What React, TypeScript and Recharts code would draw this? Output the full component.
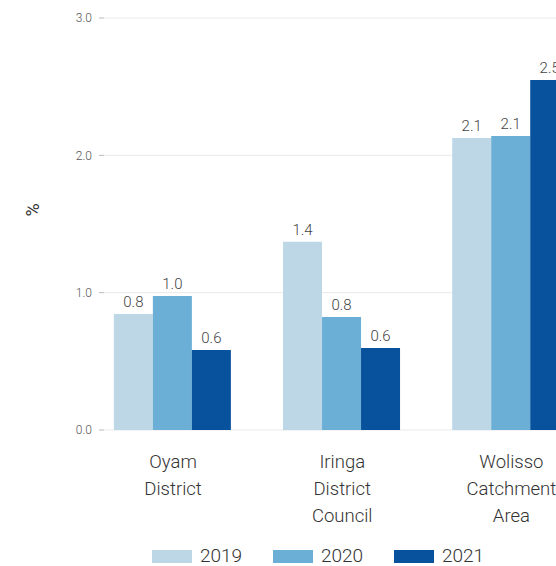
import { Bar, BarChart, CartesianGrid, LabelList, XAxis, YAxis } from "recharts";

const categories = [
  ["Oyam", "District"],
  ["Iringa", "District", "Council"],
  ["Wolisso", "Catchment", "Area"],
];
const years = ["2019", "2020", "2021"];
const colors = ["#bdd7e7", "#6baed6", "#08519c"];
const values2019 = [0.845, 1.37, 2.127];
const values2020 = [0.976, 0.823, 2.141];
const values2021 = [0.583, 0.597, 2.549];
const yTicks = [0, 1, 2, 3];

const data = categories.map((lines, i) => ({
  name: lines.join(" "),
  "2019": values2019[i],
  "2020": values2020[i],
  "2021": values2021[i],
}));

const font = "Roboto, 'Noto Sans', sans-serif";

function CategoryTick({ x, y, payload }: any) {
  const lines = payload.value.split(" ");
  return (
    <text x={x} y={y + 30} textAnchor="middle" fill="#333" fontSize={18.5} fontFamily={font} fontWeight={300}>
      {lines.map((l: string, i: number) => (
        <tspan key={i} x={x} dy={i === 0 ? 0 : 27}>
          {l}
        </tspan>
      ))}
    </text>
  );
}

function PercentLabel({ viewBox }: any) {
  const x = 32;
  const y = viewBox.y + viewBox.height / 2 - 14;
  return (
    <text x={x} y={y} transform={`rotate(-90, ${x}, ${y})`} textAnchor="middle" dominantBaseline="central" fill="#333" fontSize={18} fontFamily={font}>
      %
    </text>
  );
}

export default function App() {
  return (
    <div style={{ position: "relative", width: 556, height: 566, overflow: "hidden" }}>
      <style>{"body{margin:0}"}</style>
      <BarChart
        width={596}
        height={566}
        data={data}
        margin={{ top: 18, right: 0, bottom: 0, left: 0 }}
        barCategoryGap="15%"
        barGap={0}
      >
        <CartesianGrid vertical={false} stroke="#e9e9e9" />
        <XAxis
          dataKey="name"
          axisLine={false}
          tickLine={false}
          height={136}
          interval={0}
          padding={{ left: -15.5, right: 0 }}
          tick={<CategoryTick />}
        />
        <YAxis
          width={104}
          domain={[0, 3]}
          ticks={yTicks}
          axisLine={false}
          tickLine={{ stroke: "#bbb" }}
          tickSize={5}
          tickMargin={7}
          tickFormatter={(v: number) => v.toFixed(1)}
          tick={{ fill: "#555", fontSize: 12, fontFamily: font, fontWeight: 300 }}
          label={<PercentLabel />}
        />
        {years.map((yr, i) => (
          <Bar key={yr} dataKey={yr} fill={colors[i]} isAnimationActive={false}>
            <LabelList
              dataKey={yr}
              position="top"
              offset={7}
              formatter={(v: any) => Number(v).toFixed(1)}
              style={{ fill: "#444", fontSize: 15, fontFamily: font, fontWeight: 300 }}
            />
          </Bar>
        ))}
      </BarChart>
      <div
        style={{
          position: "absolute",
          top: 546,
          left: 152,
          display: "flex",
          fontFamily: font,
          fontWeight: 300,
          fontSize: 19,
          color: "#333",
          lineHeight: "20px",
        }}
      >
        {years.map((yr, i) => (
          <div key={yr} style={{ display: "flex", alignItems: "center", width: 121 }}>
            <span style={{ display: "inline-block", width: 40, height: 13, background: colors[i], marginRight: 8 }} />
            {yr}
          </div>
        ))}
      </div>
    </div>
  );
}
